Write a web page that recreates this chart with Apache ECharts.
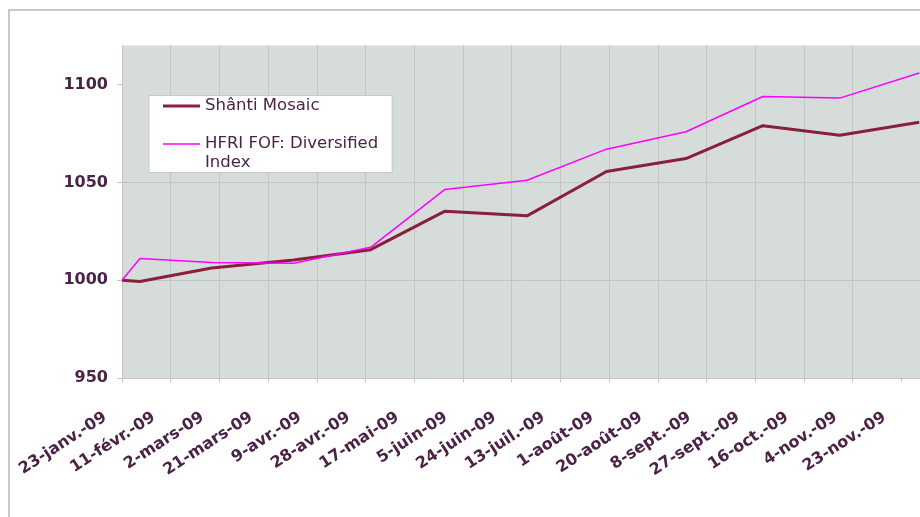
<!DOCTYPE html>
<html>
<head>
<meta charset="utf-8">
<script src="https://cdn.jsdelivr.net/npm/echarts@6/dist/echarts.min.js"></script>
<style>
  html, body { margin: 0; padding: 0; background: #fff; }
  #chart { width: 920px; height: 517px; }
</style>
</head>
<body>
<div id="chart"></div>
<script>
// month-end dates of the two series
const dates = ["2009-01-23", "2009-01-30", "2009-02-27", "2009-03-31", "2009-04-30", "2009-05-29",
  "2009-06-30", "2009-07-31", "2009-08-31", "2009-09-30", "2009-10-30", "2009-11-30"];
const shanti = [1000, 999.3, 1006.2, 1010.3, 1015.6, 1035.3, 1032.9, 1055.6, 1062.2, 1079.0, 1074.1, 1080.8];
const hfri = [1000, 1011.1, 1009.1, 1008.7, 1016.8, 1046.4, 1051.1, 1067.0, 1075.9, 1093.9, 1093.1, 1105.9];

// x tick labels, one every 19 days from 23-janv.-09
const tickLabels = ["23-janv.-09", "11-févr.-09", "2-mars-09", "21-mars-09", "9-avr.-09", "28-avr.-09",
  "17-mai-09", "5-juin-09", "24-juin-09", "13-juil.-09", "1-août-09", "20-août-09", "8-sept.-09",
  "27-sept.-09", "16-oct.-09", "4-nov.-09", "23-nov.-09"];
const yTicks = [950, 1000, 1050, 1100];

const seriesNames = ["Shânti Mosaic", "HFRI FOF: Diversified Index"];

const DAY = 86400000;
const start = Date.parse(dates[0]);
// days since the first date
function dayOf(d) {
  return Math.round((Date.parse(d) - start) / DAY);
}
const xTicks = tickLabels.map((t, i) => i * 19);

const labelColor = "#4a2347";
const gridColor = "#c4c4c4";
const shantiColor = "#8a1f3c";
const hfriColor = "#ff00ff";

let chart = echarts.init(document.getElementById("chart"));
chart.setOption({
  backgroundColor: "#fff",
  animation: false,
  textStyle: { fontFamily: "DejaVu Sans" },
  graphic: [
    {
      type: "rect",
      shape: { x: 9, y: 10, width: 1000, height: 600 },
      style: { fill: "none", stroke: "#c8c8c8", lineWidth: 2 },
      z: -1,
    },
  ],
  grid: {
    left: 122,
    right: -30,
    top: 45.5,
    bottom: 139,
    outerBoundsMode: "none",
    containLabel: false,
    show: true,
    backgroundColor: "#d5dcda",
    borderWidth: 0,
  },
  legend: {
    orient: "vertical",
    left: 149,
    top: 95.5,
    backgroundColor: "#fff",
    borderColor: "#c8c8c8",
    borderWidth: 1,
    borderRadius: 0,
    padding: [1, 14, 0, 14],
    itemWidth: 37,
    itemHeight: 14,
    itemGap: 0,
    textStyle: { color: labelColor, fontSize: 16.5, lineHeight: 19 },
    formatter: function (name) {
      // wrap the long name, keeping its first line level with the icon
      return name === seriesNames[1] ? "\nHFRI FOF: Diversified\nIndex" : name;
    },
    data: [
      { name: seriesNames[0], icon: "path://M0,0H37V3H0Z" },
      { name: seriesNames[1], icon: "path://M0,0H37V1.5H0Z" },
    ],
  },
  xAxis: {
    type: "value",
    min: 0,
    max: 17 * 19,
    interval: 19,
    axisLine: { lineStyle: { color: gridColor } },
    axisTick: { show: true, length: 4, customValues: xTicks, lineStyle: { color: gridColor } },
    splitLine: { show: true, showMaxLine: false, lineStyle: { color: gridColor, width: 1 } },
    axisLabel: {
      rotate: 33,
      margin: 27,
      padding: [0, 20, 0, 0],
      color: labelColor,
      fontSize: 16,
      fontWeight: "bold",
      customValues: xTicks,
      formatter: function (v) {
        return tickLabels[Math.round(v / 19)] || "";
      },
    },
  },
  yAxis: {
    type: "value",
    min: yTicks[0],
    max: 1120,
    interval: 50,
    axisLine: { show: true, lineStyle: { color: gridColor } },
    axisTick: { show: true, length: 5, customValues: yTicks, lineStyle: { color: gridColor } },
    splitLine: { show: true, showMaxLine: false, lineStyle: { color: gridColor, width: 1 } },
    axisLabel: {
      margin: 14,
      color: labelColor,
      fontSize: 16,
      fontWeight: "bold",
      customValues: yTicks,
      formatter: function (v) {
        return String(v);
      },
    },
  },
  series: [
    {
      name: seriesNames[0],
      type: "line",
      symbol: "none",
      data: dates.map((d, i) => [dayOf(d), shanti[i]]),
      lineStyle: { color: shantiColor, width: 3 },
      itemStyle: { color: shantiColor },
      z: 2,
    },
    {
      name: seriesNames[1],
      type: "line",
      symbol: "none",
      data: dates.map((d, i) => [dayOf(d), hfri[i]]),
      lineStyle: { color: hfriColor, width: 1.5 },
      itemStyle: { color: hfriColor },
      z: 3,
    },
  ],
});
</script>
</body>
</html>
